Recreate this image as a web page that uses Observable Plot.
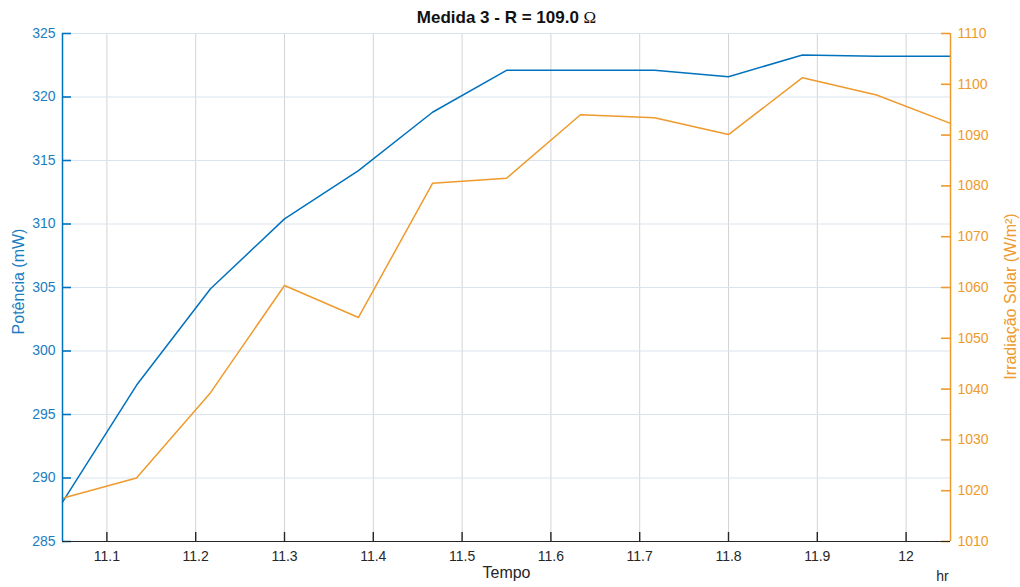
<!DOCTYPE html>
<html>
<head>
<meta charset="utf-8">
<script src="https://cdn.jsdelivr.net/npm/d3@7"></script>
<script src="https://cdn.jsdelivr.net/npm/@observablehq/plot@0.6"></script>
<style>
  body { margin: 0; background: #fff; }
  svg { display: block; }
</style>
</head>
<body>
<div id="chart"></div>
<script>
// Medição 3: potência da carga e irradiação solar ao longo do tempo (horas decimais)
const tempo = [11.05, 11.1333, 11.2167, 11.3, 11.3833, 11.4667, 11.55, 11.6333, 11.7167, 11.8, 11.8833, 11.9667, 12.05];
const potencia = [288.1, 297.3, 304.9, 310.4, 314.2, 318.8, 322.1, 322.1, 322.1, 321.6, 323.3, 323.2, 323.2];
const irradiacao = [1018.5, 1022.5, 1039.3, 1060.4, 1054.1, 1080.5, 1081.5, 1094.0, 1093.4, 1090.1, 1101.3, 1097.9, 1092.3];

const xTicks = [11.1, 11.2, 11.3, 11.4, 11.5, 11.6, 11.7, 11.8, 11.9, 12];
const potTicks = [285, 290, 295, 300, 305, 310, 315, 320, 325];
const irrTicks = [1010, 1020, 1030, 1040, 1050, 1060, 1070, 1080, 1090, 1100, 1110];

const titulo = "Medida 3 - R = 109.0 Ω";

const AZUL = "#0072BD";
const LARANJA = "#EE9A2C";
const EIXO = "#262626";

const W = 1020, H = 587;
const M = { top: 33, bottom: 46, left: 62, right: 70 };
const plotW = W - M.left - M.right;
const plotH = H - M.top - M.bottom;
const TICK = 9; // inward tick length, px

const xDom = [11.05, 12.05];
// The irradiance series shares the potência scale through a linear map
const potDom = [285, 325];
const irrDom = [1010, 1110];
const paraPot = v => potDom[0] + (v - irrDom[0]) * (potDom[1] - potDom[0]) / (irrDom[1] - irrDom[0]);
const paraIrr = v => irrDom[0] + (v - potDom[0]) * (irrDom[1] - irrDom[0]) / (potDom[1] - potDom[0]);

// tick length expressed in each scale's units
const tickX = TICK * (xDom[1] - xDom[0]) / plotW;
const tickY = TICK * (potDom[1] - potDom[0]) / plotH;

const linhas = tempo.map((t, i) => ({ t, pot: potencia[i], irr: irradiacao[i] }));

const chart = Plot.plot({
  width: W,
  height: H,
  marginTop: M.top,
  marginBottom: M.bottom,
  marginLeft: M.left,
  marginRight: M.right,
  style: { fontFamily: "'Liberation Sans', Arial, Helvetica, sans-serif", fontSize: "14px", background: "#fff" },
  x: { domain: xDom },
  y: { domain: potDom },
  marks: [
    Plot.gridX(xTicks, { stroke: "#d4d4d4", strokeOpacity: 1 }),
    Plot.gridY(potTicks, { stroke: "#dbe4ee", strokeOpacity: 1 }),
    Plot.line(linhas, { x: "t", y: "pot", stroke: AZUL, strokeWidth: 1.5 }),
    Plot.line(linhas, { x: "t", y: d => paraPot(d.irr), stroke: LARANJA, strokeWidth: 1.5 }),

    // inward tick marks
    Plot.ruleX(xTicks, { x: d => d, y1: potDom[0], y2: potDom[0] + tickY, stroke: EIXO, strokeWidth: 1.4 }),
    Plot.ruleY(potTicks, { y: d => d, x1: xDom[0], x2: xDom[0] + tickX, stroke: AZUL, strokeWidth: 1.6 }),
    Plot.ruleY(irrTicks.map(paraPot), { y: d => d, x1: xDom[1] - tickX, x2: xDom[1], stroke: LARANJA, strokeWidth: 1.6 }),

    // axis lines
    Plot.ruleY([potDom[0]], { stroke: EIXO, strokeWidth: 1.2 }),
    Plot.ruleX([xDom[0]], { stroke: AZUL, strokeWidth: 1.5 }),
    Plot.ruleX([xDom[1]], { stroke: LARANJA, strokeWidth: 1.5 }),

    Plot.axisX(xTicks, {
      anchor: "bottom", tickSize: 0, tickPadding: 10, color: EIXO,
      tickFormat: d => String(d), fontSize: 14,
      label: null
    }),
    Plot.axisY(potTicks, {
      anchor: "left", tickSize: 0, tickPadding: 7, color: "#1B7DC0",
      tickFormat: d => String(d), fontSize: 14,
      label: null
    }),
    Plot.axisY(irrTicks.map(paraPot), {
      anchor: "right", tickSize: 0, tickPadding: 7, color: LARANJA,
      tickFormat: d => String(Math.round(paraIrr(d))), fontSize: 14,
      label: null
    }),

    // axis titles
    Plot.text(["Tempo"], { frameAnchor: "bottom", dy: 31, lineAnchor: "middle", textAnchor: "middle", fill: EIXO, fontSize: 16 }),
    Plot.text(["hr"], { frameAnchor: "bottom-right", dx: -8, dy: 35, lineAnchor: "middle", textAnchor: "middle", fill: EIXO, fontSize: 14 }),
    Plot.text(["Potência (mW)"], { frameAnchor: "left", dx: -44, dy: -6, rotate: -90, lineAnchor: "middle", textAnchor: "middle", fill: "#1B7DC0", fontSize: 16 }),
    Plot.text(["Irradiação Solar (W/m²)"], { frameAnchor: "right", dx: 60, dy: 9, rotate: -90, lineAnchor: "middle", textAnchor: "middle", fill: LARANJA, fontSize: 16 }),

    Plot.text([titulo], { frameAnchor: "top", dy: -16, lineAnchor: "middle", textAnchor: "middle", fill: "#111", fontSize: 17, fontWeight: "bold" })
  ]
});

document.getElementById("chart").appendChild(chart);

// The ohm sign is set in a serif face, as in the original typesetting
d3.select(chart).selectAll("text").filter(function () { return this.textContent === titulo; })
  .each(function () {
    const el = d3.select(this);
    el.text("");
    el.append("tspan").text("Medida 3 - R = 109.0 ");
    el.append("tspan").attr("font-family", "'Liberation Serif', 'DejaVu Serif', serif").attr("font-weight", "normal").text("Ω");
  });
</script>
</body>
</html>
